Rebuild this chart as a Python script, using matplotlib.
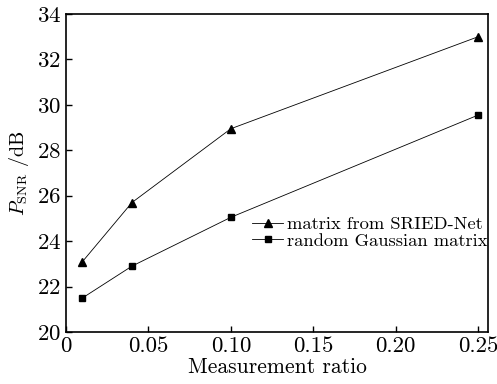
import matplotlib
matplotlib.use("Agg")
import matplotlib.pyplot as plt

# data
ratio = [0.01, 0.04, 0.10, 0.25]
psnr_sried = [23.1, 25.7, 28.95, 33.0]
psnr_gauss = [21.5, 22.9, 25.05, 29.55]

plt.rcParams['font.family'] = 'cmr10'
plt.rcParams['mathtext.fontset'] = 'cm'
plt.rcParams['axes.formatter.use_mathtext'] = True

fig = plt.figure(figsize=(4.97, 3.84), dpi=100)
ax = fig.add_axes([0.1328, 0.1354, 0.849, 0.828])

ax.plot(ratio, psnr_sried, color='black', lw=0.6, marker='^', ms=6, label='matrix from SRIED-Net')
ax.plot(ratio, psnr_gauss, color='black', lw=0.6, marker='s', ms=5, label='random Gaussian matrix')

ax.set_xlim(0, 0.256)
ax.set_ylim(20, 34)
ax.set_xticks([0, 0.05, 0.10, 0.15, 0.20, 0.25])
ax.set_xticklabels(['0', '0.05', '0.10', '0.15', '0.20', '0.25'])
ax.set_yticks(range(20, 35, 2))
ax.tick_params(direction='in', length=4, width=1, labelsize=16.5, top=False, right=False)
for s in ax.spines.values():
    s.set_linewidth(1.2)

ax.set_xlabel('Measurement ratio', fontsize=15.5, labelpad=1)
ax.set_ylabel(r'$P_{\mathrm{SNR}}$ /dB', fontsize=14.5, labelpad=4)

ax.legend(loc='upper left', bbox_to_anchor=(0.41, 0.405), frameon=False, fontsize=13.3,
          handlelength=1.7, handletextpad=0.2, labelspacing=0.05, borderpad=0.2)

fig.savefig('out.png', dpi=100)
